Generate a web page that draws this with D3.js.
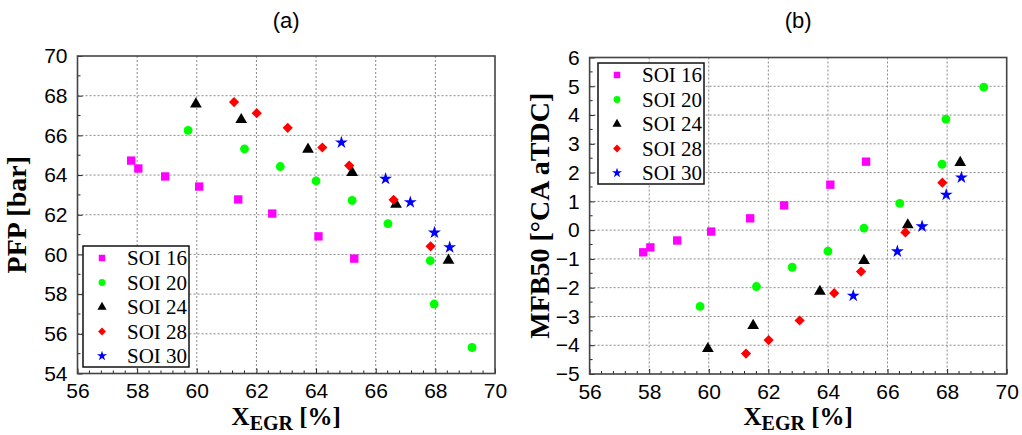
<!DOCTYPE html>
<html>
<head>
<meta charset="utf-8">
<script src="https://cdn.jsdelivr.net/npm/d3@7"></script>
<style>
  body { margin: 0; background: #fff; }
  svg { display: block; }
</style>
</head>
<body>
<svg id="chart" width="1022" height="435"></svg>
<script>
// series labels
const soiLabels = ["SOI 16", "SOI 20", "SOI 24", "SOI 28", "SOI 30"];

// EGR rate [%] per SOI (same operating points in both panels)
const xegr16 = [57.80, 58.04, 58.94, 60.08, 61.39, 62.53, 64.08, 65.28];
const xegr20 = [59.71, 61.60, 62.80, 64.00, 65.21, 66.41, 67.83, 67.96, 69.23];
const xegr24 = [59.97, 61.49, 63.73, 65.21, 66.68, 68.44];
const xegr28 = [61.25, 62.01, 63.05, 64.21, 65.11, 66.60, 67.84];
const xegr30 = [64.85, 66.33, 67.16, 67.97, 68.48];

// (a) peak firing pressure [bar]
const pfp16 = [64.73, 64.33, 63.93, 63.42, 62.77, 62.06, 60.91, 59.79];
const pfp20 = [66.25, 65.32, 64.43, 63.71, 62.72, 61.55, 59.69, 57.50, 55.31];
const pfp24 = [67.58, 66.79, 65.30, 64.13, 62.53, 59.70];
const pfp28 = [67.68, 67.12, 66.38, 65.39, 64.48, 62.75, 60.41];
const pfp30 = [65.64, 63.81, 62.63, 61.10, 60.36];

// (b) MFB50 [°CA aTDC]
const mfb16 = [-0.77, -0.60, -0.36, -0.05, 0.41, 0.86, 1.58, 2.38];
const mfb20 = [-2.65, -1.96, -1.29, -0.73, 0.07, 0.93, 2.29, 3.86, 4.97];
const mfb24 = [-4.12, -3.32, -2.13, -1.06, 0.18, 2.35];
const mfb28 = [-4.29, -3.82, -3.14, -2.19, -1.44, -0.08, 1.65];
const mfb30 = [-2.28, -0.74, 0.13, 1.23, 1.83];

const xTicks = [56, 58, 60, 62, 64, 66, 68, 70];
const pfpTicks = [54, 56, 58, 60, 62, 64, 66, 68, 70];
const mfbTicks = [-5, -4, -3, -2, -1, 0, 1, 2, 3, 4, 5, 6];

const colors = ["#ff00ff", "#00ff00", "#000000", "#ff0000", "#0000ff"];
const shapes = ["square", "circle", "triangle", "diamond", "star"];

const svg = d3.select("#chart");

function markerPath(shape, s) {
  if (shape === "square") return d3.symbol(d3.symbolSquare, 70 * s)();
  if (shape === "circle") return d3.symbol(d3.symbolCircle, 62 * s)();
  if (shape === "triangle") return d3.symbol(d3.symbolTriangle, 60 * s)();
  if (shape === "diamond") return d3.symbol(d3.symbolSquare, 52 * s)();
  return d3.symbol(d3.symbolStar, 52 * s)();
}

function drawMarker(g, shape, color, x, y, s) {
  g.append("path")
    .attr("d", markerPath(shape, s))
    .attr("fill", color)
    .attr("transform", "translate(" + x + "," + y + ")" + (shape === "diamond" ? " rotate(45)" : ""));
}

function drawPanel(p) {
  const x = d3.scaleLinear().domain([56, 70]).range([p.x0, p.x1]);
  const y = d3.scaleLinear().domain(p.yDomain).range([p.y1, p.y0]);
  const g = svg.append("g");

  // dotted grid
  g.selectAll(".gx").data(xTicks.slice(1, -1)).enter().append("line")
    .attr("x1", d => x(d)).attr("x2", d => x(d))
    .attr("y1", p.y0).attr("y2", p.y1)
    .attr("stroke", "#8a8a8a").attr("stroke-width", 1).attr("stroke-dasharray", "2,2");
  g.selectAll(".gy").data(p.yTicks.slice(1, -1)).enter().append("line")
    .attr("y1", d => y(d)).attr("y2", d => y(d))
    .attr("x1", p.x0).attr("x2", p.x1)
    .attr("stroke", "#8a8a8a").attr("stroke-width", 1).attr("stroke-dasharray", "2,2");

  // axes with inward ticks
  const xAxis = d3.axisBottom(x).tickValues(xTicks).tickSize(-5).tickPadding(10)
    .tickFormat(d3.format("d"));
  const gx = g.append("g").attr("transform", "translate(0," + p.y1 + ")").call(xAxis);
  const xMinor = d3.range(56, 70.001, 0.4).filter(v => Math.abs(v / 2 - Math.round(v / 2)) > 0.01);
  g.selectAll(".mx").data(xMinor).enter().append("line")
    .attr("x1", d => x(d)).attr("x2", d => x(d))
    .attr("y1", p.y1).attr("y2", p.y1 - 3)
    .attr("stroke", "#222").attr("stroke-width", 1);

  const yAxis = d3.axisLeft(y).tickValues(p.yTicks).tickSize(-5).tickPadding(10)
    .tickFormat(d3.format("d"));
  const gy = g.append("g").attr("transform", "translate(" + p.x0 + ",0)").call(yAxis);
  g.selectAll(".my").data(p.yMinor).enter().append("line")
    .attr("y1", d => y(d)).attr("y2", d => y(d))
    .attr("x1", p.x0).attr("x2", p.x0 + 3)
    .attr("stroke", "#222").attr("stroke-width", 1);

  [gx, gy].forEach(a => {
    a.select(".domain").remove();
    a.selectAll("line").attr("stroke", "#222");
    a.selectAll("text").attr("font-family", "'Liberation Sans', Arial, sans-serif")
      .attr("font-size", 21).attr("fill", "#000");
  });

  // frame
  g.append("rect")
    .attr("x", p.x0).attr("y", p.y0)
    .attr("width", p.x1 - p.x0).attr("height", p.y1 - p.y0)
    .attr("fill", "none").attr("stroke", "#444").attr("stroke-width", 1.6);

  // points
  p.series.forEach((s, i) => {
    s.xs.forEach((xv, j) => drawMarker(g, shapes[i], colors[i], x(xv), y(s.ys[j]), 1));
  });

  // legend
  const lg = g.append("g").attr("transform", "translate(" + p.lx + "," + p.ly + ")");
  lg.append("rect").attr("width", 106).attr("height", 121)
    .attr("fill", "#fff").attr("stroke", "#111").attr("stroke-width", 1.5);
  soiLabels.forEach((lab, i) => {
    const cy = 12 + i * 24.5;
    drawMarker(lg, shapes[i], colors[i], 19, cy, 0.6);
    lg.append("text").attr("x", 44).attr("y", cy + 7)
      .attr("font-family", "'Liberation Serif', 'Times New Roman', serif")
      .attr("font-size", 21).text(lab);
  });

  // titles
  svg.append("text").attr("x", (p.x0 + p.x1) / 2).attr("y", 28)
    .attr("text-anchor", "middle")
    .attr("font-family", "'Liberation Sans', Arial, sans-serif")
    .attr("font-size", 22).text(p.title);

  const xt = svg.append("text").attr("x", (p.x0 + p.x1) / 2).attr("y", 425)
    .attr("text-anchor", "middle")
    .attr("font-family", "'Liberation Serif', 'Times New Roman', serif")
    .attr("font-weight", "bold").attr("font-size", 25);
  xt.append("tspan").text("X");
  xt.append("tspan").attr("font-size", 20).attr("dy", 5).text("EGR");
  xt.append("tspan").attr("dy", -5).text(" [%]");

  svg.append("text")
    .attr("transform", "translate(" + p.ytx + "," + (p.y0 + p.y1) / 2 + ") rotate(-90)")
    .attr("text-anchor", "middle")
    .attr("font-family", "'Liberation Serif', 'Times New Roman', serif")
    .attr("font-weight", "bold").attr("font-size", 28)
    .text(p.yTitle);
}

drawPanel({
  title: "(a)", yTitle: "PFP [bar]",
  x0: 77.5, x1: 495, y0: 56, y1: 373.5, ytx: 26,
  yDomain: [54, 70], yTicks: pfpTicks, yMinor: d3.range(55, 70, 2),
  lx: 83, ly: 246,
  series: [
    { xs: xegr16, ys: pfp16 }, { xs: xegr20, ys: pfp20 }, { xs: xegr24, ys: pfp24 },
    { xs: xegr28, ys: pfp28 }, { xs: xegr30, ys: pfp30 }
  ]
});

drawPanel({
  title: "(b)", yTitle: "MFB50 [°CA aTDC]",
  x0: 589.6, x1: 1006.7, y0: 57.5, y1: 374, ytx: 549,
  yDomain: [-5, 6], yTicks: mfbTicks, yMinor: d3.range(-4.5, 6, 1),
  lx: 598, ly: 63,
  series: [
    { xs: xegr16, ys: mfb16 }, { xs: xegr20, ys: mfb20 }, { xs: xegr24, ys: mfb24 },
    { xs: xegr28, ys: mfb28 }, { xs: xegr30, ys: mfb30 }
  ]
});
</script>
</body>
</html>
